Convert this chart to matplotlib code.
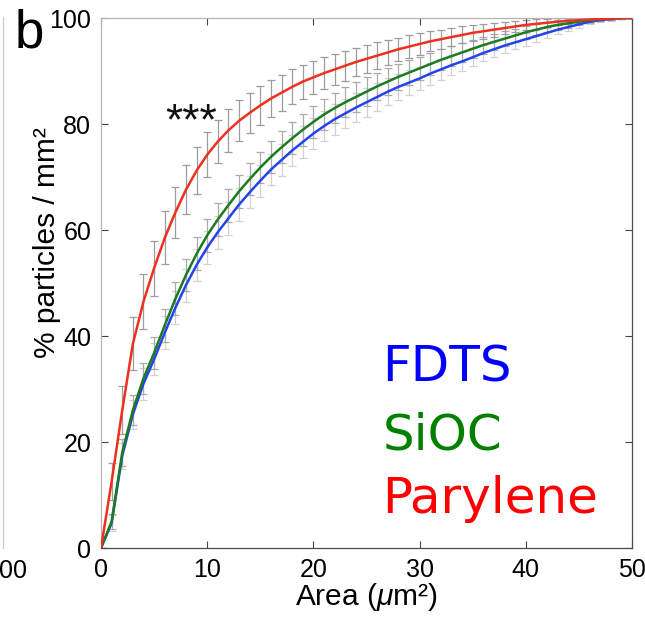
import matplotlib
matplotlib.use("Agg")
import matplotlib.pyplot as plt

plt.rcParams['font.family'] = ['Liberation Sans', 'DejaVu Sans']
plt.rcParams['mathtext.fontset'] = 'custom'
plt.rcParams['mathtext.rm'] = 'Liberation Sans'
plt.rcParams['mathtext.it'] = 'Liberation Sans:italic'

# Particle area (µm²) sampled at every integer
area = list(range(0, 51))

# Cumulative % particles / mm² for each coating
parylene = [0, 12.5, 26, 38.5, 46.5, 52.8, 58.5, 63.3, 67.6, 71.2, 74.2, 76.7, 78.8,
            80.6, 82.1, 83.5, 84.8, 85.9, 87.0, 88.0, 88.8, 89.6, 90.3, 91.0, 91.7,
            92.3, 92.9, 93.5, 94.1, 94.6, 95.1, 95.6, 96.0, 96.4, 96.8, 97.2, 97.5,
            97.8, 98.1, 98.4, 98.7, 98.9, 99.1, 99.3, 99.45, 99.6, 99.7, 99.8, 99.9,
            100, 100]
sioc = [0, 5, 18, 26, 32, 36.8, 42, 47, 51.5, 55.5, 59, 62, 64.7, 67.3, 69.6, 71.8,
        73.8, 75.6, 77.3, 78.9, 80.4, 81.8, 83.0, 84.1, 85.1, 86.1, 87.1, 88.0, 88.9,
        89.7, 90.5, 91.3, 92.1, 92.8, 93.5, 94.2, 94.9, 95.5, 96.1, 96.7, 97.3, 97.8,
        98.3, 98.7, 99.0, 99.3, 99.6, 99.8, 99.9, 100, 100]
fdts = [0, 4.7, 17.4, 25.2, 31.0, 35.6, 40.6, 45.3, 49.6, 53.4, 56.7, 59.6, 62.2,
        64.8, 67.1, 69.3, 71.4, 73.2, 75.0, 76.6, 78.2, 79.6, 80.9, 82.0, 83.1, 84.1,
        85.1, 86.1, 87.0, 87.8, 88.6, 89.5, 90.3, 91.1, 91.8, 92.6, 93.4, 94.1, 94.8,
        95.4, 96.0, 96.6, 97.2, 97.8, 98.3, 98.8, 99.3, 99.6, 99.8, 100, 100]

# Error (± half-range) at each sampled area
parylene_err = [0, 3.5, 4.5, 5.0, 5.2, 5.2, 5.0, 4.8, 4.6, 4.4, 4.2, 4.1, 4.0, 3.9,
                3.8, 3.6, 3.5, 3.4, 3.3, 3.2, 3.1, 3.0, 2.9, 2.8, 2.7, 2.6, 2.5, 2.4,
                2.2, 2.1, 2.0, 1.9, 1.8, 1.7, 1.6, 1.5, 1.4, 1.3, 1.2, 1.1, 1.0, 0.9,
                0.8, 0.7, 0.6, 0.5, 0.4, 0.3, 0.2, 0.1, 0]
sioc_err = [0, 1.5, 2.5, 2.8, 3.0, 3.0, 3.1, 3.1, 3.1, 3.1, 3.1, 3.1, 3.1, 3.1, 3.0,
            3.0, 3.0, 3.0, 3.0, 3.0, 3.0, 2.9, 2.9, 2.8, 2.8, 2.7, 2.6, 2.5, 2.4,
            2.3, 2.2, 2.1, 2.0, 1.9, 1.8, 1.7, 1.6, 1.5, 1.4, 1.3, 1.2, 1.1, 1.0,
            0.9, 0.8, 0.6, 0.5, 0.4, 0.3, 0.1, 0]
fdts_err = [0, 1.5, 2.5, 2.8, 3.0, 3.0, 3.1, 3.1, 3.1, 3.1, 3.1, 3.1, 3.1, 3.1, 3.0,
            3.0, 3.0, 3.0, 3.0, 3.0, 3.0, 2.9, 2.9, 2.8, 2.8, 2.7, 2.6, 2.5, 2.4,
            2.3, 2.2, 2.1, 2.0, 1.9, 1.8, 1.7, 1.6, 1.5, 1.4, 1.3, 1.2, 1.1, 1.0,
            0.9, 0.8, 0.6, 0.5, 0.4, 0.3, 0.1, 0]

labels = ["FDTS", "SiOC", "Parylene"]
x_ticks = [0, 10, 20, 30, 40, 50]
y_ticks = [0, 20, 40, 60, 80, 100]

W, H = 645, 619
fig = plt.figure(figsize=(W / 100, H / 100), dpi=100)
ax = fig.add_axes([101 / W, 1 - 548 / H, 531 / W, 530 / H])

# error bars first, curves on top
ax.errorbar(area, fdts, yerr=fdts_err, fmt='none', ecolor='#d2d2d2',
            elinewidth=0.9, capsize=3.2, capthick=0.9, zorder=1)
ax.errorbar(area, sioc, yerr=sioc_err, fmt='none', ecolor='#ababab',
            elinewidth=0.9, capsize=3.2, capthick=0.9, zorder=1.1)
ax.errorbar(area, parylene, yerr=parylene_err, fmt='none', ecolor='#9d9d9d',
            elinewidth=0.9, capsize=3.2, capthick=0.9, zorder=1.2)

ax.plot(area, fdts, color='#2443ee', lw=1.8, zorder=3)
ax.plot(area, sioc, color='#1c7a1f', lw=1.8, zorder=3.1)
ax.plot(area, parylene, color='#ee3020', lw=1.8, zorder=3.2)

ax.set_xlim(0, 50)
ax.set_ylim(0, 100)
ax.set_xticks(x_ticks)
ax.set_yticks(y_ticks)
ax.tick_params(direction='in', top=True, right=True, length=5, width=0.8,
               color='#444444', labelsize=18, pad=7)

for side in ('left', 'top'):
    ax.spines[side].set_color('#b5b5b5')
for side in ('bottom', 'right'):
    ax.spines[side].set_color('#4d4d4d')
for sp in ax.spines.values():
    sp.set_linewidth(0.9)

ax.set_xlabel(r'Area ($\mu$m²)', fontsize=21.5)
ax.xaxis.set_label_coords(0.5, -0.062)
ax.set_ylabel('% particles / mm²', fontsize=21.5)
ax.yaxis.set_label_coords(-0.075, 0.576)

# significance marker
ax.text(8.47, 78.1, '***', fontsize=32, ha='center', va='baseline', color='#111111')

# coating names
name_colors = ['#0000ff', '#008000', '#ff0000']
name_y = [31.4, 18.5, 6.6]
for name, c, yy in zip(labels, name_colors, name_y):
    ax.text(26.5, yy, name, fontsize=36, color=c, ha='left', va='baseline',
            family='DejaVu Sans')

# panel letter
fig.text(14.5 / W, 1 - 47 / H, 'b', fontsize=38, ha='left', va='baseline')

# edge of the neighbouring panel
fig.add_artist(plt.Line2D([2.5 / W, 2.5 / W], [1 - 548 / H, 1 - 17 / H],
                          color='#c8c8c8', lw=0.9))
fig.text(27 / W, 1 - 578 / H, '00', fontsize=18, ha='right', va='baseline')

fig.savefig('out.png', dpi=100)
